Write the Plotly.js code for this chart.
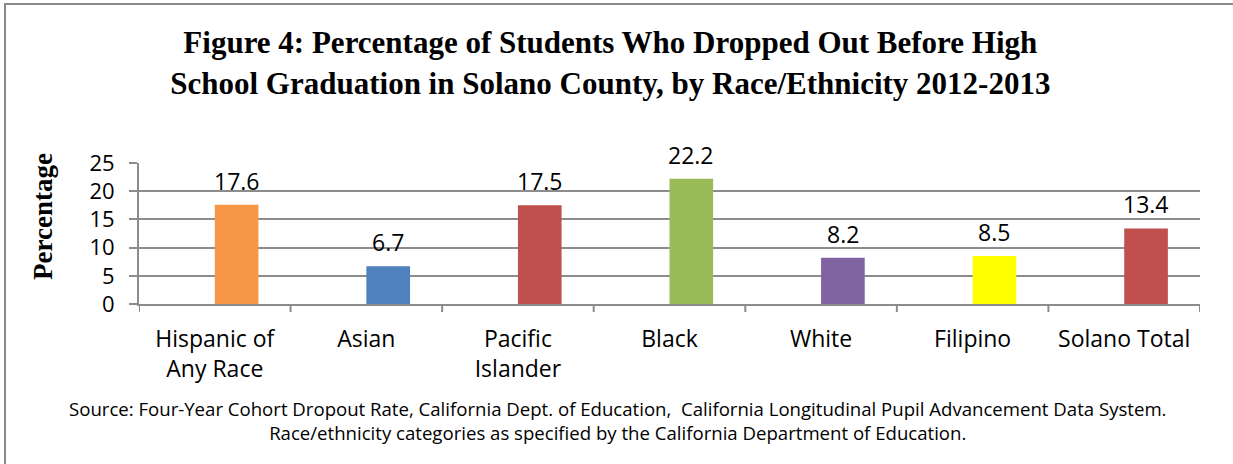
<!DOCTYPE html>
<html>
<head>
<meta charset="utf-8">
<script src="https://cdn.plot.ly/plotly-3.0.1.min.js"></script>
<style>
  html, body { margin: 0; padding: 0; background: #ffffff; }
  #chart { width: 1233px; height: 464px; position: absolute; left: 0; top: 0; }
  #frame { position: absolute; left: 4px; top: 3px; width: 1300px; height: 500px;
           border-left: 2px solid #8a8a8a; border-top: 2px solid #8a8a8a; pointer-events: none; }
</style>
</head>
<body>
<div id="chart"></div>
<div id="frame"></div>
<script>
const categories = ["Hispanic of<br>Any Race", "Asian", "Pacific<br>Islander", "Black", "White", "Filipino", "Solano Total"];
const values = [17.6, 6.7, 17.5, 22.2, 8.2, 8.5, 13.4];
const barColors = ["#F79646", "#4F81BD", "#C0504D", "#9BBB59", "#8064A2", "#FFFF00", "#C0504D"];
const yTicks = [0, 5, 10, 15, 20, 25];
const sourceLines = [
  "Source: Four-Year Cohort Dropout Rate, California Dept. of Education,  California Longitudinal Pupil Advancement Data System.",
  "Race/ethnicity categories as specified by the California Department of Education."
];

const BAR_W = 0.288;
const idx = categories.map((c, i) => i);

const trace = {
  type: "bar",
  x: idx,
  y: values,
  width: BAR_W,
  offset: 0,
  marker: { color: barColors, line: { width: 0 } },
  hoverinfo: "skip"
};

const sansFont = "'Open Sans', Lato, sans-serif";
const serifFont = "'Liberation Serif', 'Times New Roman', serif";

const annotations = values.map((v, i) => ({
  x: i + BAR_W / 2, y: v, xref: "x", yref: "y",
  text: v.toFixed(1), showarrow: false, yanchor: "bottom", yshift: 6,
  font: { family: sansFont, size: 23, color: "#000" }
}));

annotations.push({
  xref: "paper", yref: "paper", x: 0.451, y: -0.826,
  xanchor: "center", yanchor: "middle", showarrow: false, align: "center",
  text: sourceLines.join("<br>"), font: { family: sansFont, size: 18.6, color: "#000" }
});

annotations.push({
  xref: "paper", yref: "paper", x: 0, y: 0.617, xshift: -96,
  xanchor: "center", yanchor: "middle", showarrow: false, textangle: -90,
  text: "<b>Percentage</b>", font: { family: serifFont, size: 27, color: "#000" }
});

const layout = {
  width: 1233, height: 464,
  margin: { l: 139, r: 33, t: 163, b: 160, pad: 0 },
  paper_bgcolor: "#ffffff", plot_bgcolor: "#ffffff",
  showlegend: false,
  title: {
    text: "<b>Figure 4: Percentage of Students Who Dropped Out Before High<br>School Graduation in Solano County, by Race/Ethnicity 2012-2013</b>",
    font: { family: serifFont, size: 31, color: "#000" },
    x: 0.495, xanchor: "center", y: 0.885, yanchor: "middle"
  },
  xaxis: {
    type: "linear",
    range: [-0.5, 6.5],
    tickvals: idx, ticktext: categories,
    ticks: "", showgrid: false, zeroline: false,
    showline: true, linecolor: "#8c8c8c", linewidth: 2,
    tickfont: { family: sansFont, size: 23, color: "#000" },
    ticklabelstandoff: 13
  },
  yaxis: {
    range: [0, 25], tickvals: yTicks,
    ticks: "outside", ticklen: 8, tickcolor: "#8c8c8c", tickwidth: 2,
    showline: true, linecolor: "#8c8c8c", linewidth: 2,
    showgrid: true, gridcolor: "#8c8c8c", gridwidth: 2,
    zeroline: false,
    tickfont: { family: sansFont, size: 22, color: "#000" },
    ticklabelstandoff: 10
  },
  shapes: idx.concat([idx.length]).map(i => ({
    type: "line", xref: "x", yref: "paper", x0: i - 0.5, x1: i - 0.5, y0: 0, y1: -0.057,
    line: { color: "#8c8c8c", width: 2 }
  })),
  annotations: annotations
};

Plotly.newPlot("chart", [trace], layout, { displayModeBar: false, staticPlot: true });
</script>
</body>
</html>
